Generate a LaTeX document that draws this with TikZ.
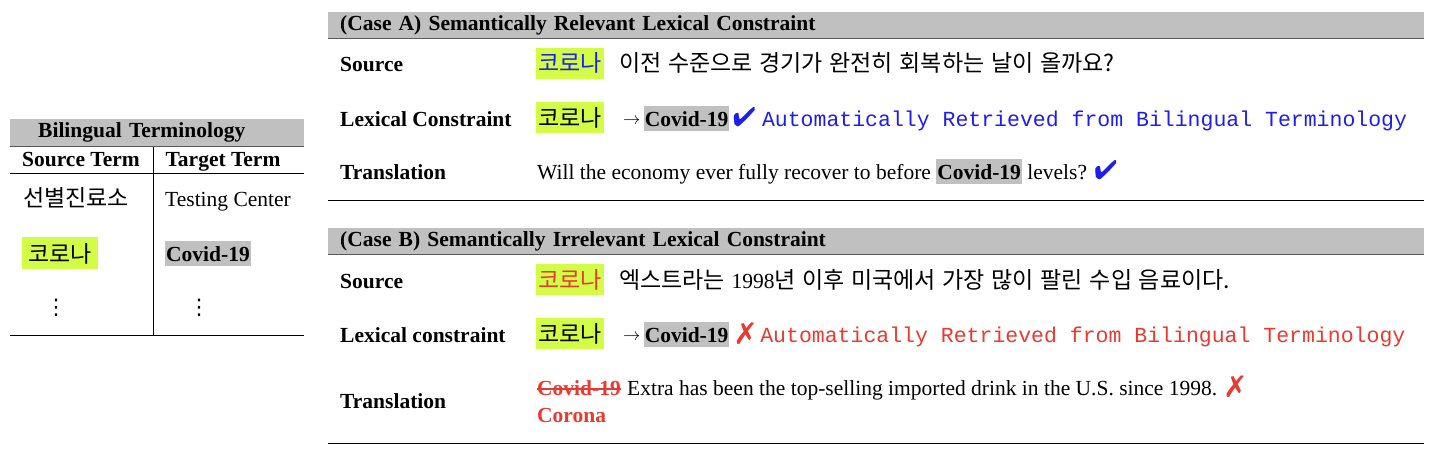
\documentclass[tikz,border=0pt]{standalone}
\usepackage{fontspec}
\setmainfont{Liberation Serif}
\setmonofont{Liberation Mono}
\newfontfamily\kofont[WordSpace=1.3]{Noto Sans CJK KR}
\newfontfamily\symfont{DejaVu Sans}
\usepackage{pifont}
\usetikzlibrary{positioning,calc}

\definecolor{hlgreen}{RGB}{210,252,70}
\definecolor{boxgray}{RGB}{192,192,192}
\definecolor{okblue}{RGB}{30,30,235}
\definecolor{badred}{RGB}{232,58,48}
\newcommand{\sz}{\fontsize{21.5}{25}\selectfont}
\newcommand{\kosz}{\fontsize{23}{26}\selectfont}

\begin{document}
\begin{tikzpicture}[
        x=1pt, y=-1pt,
        font=\sz,
        band/.style={
            fill=boxgray,
            anchor=north west,
            minimum height=26pt,
            align=left,
            font=\sz\bfseries
        },
        rule/.style={
            line width=0.9pt
        },
        bandrule/.style={
            line width=1.4pt,
            draw=black!65
        },
        lbl/.style={
            anchor=base west,
            inner sep=0pt,
            font=\sz\bfseries
        },
        txt/.style={
            inner sep=0pt
        },
        kor/.style={
            inner sep=0pt,
            font=\kosz\kofont
        },
        hl/.style={
            fill=hlgreen,
            anchor=base west,
            inner xsep=2pt,
            minimum height=31pt,
            font=\kosz\kofont
        },
        tgt/.style={
            fill=boxgray,
            inner xsep=1pt,
            inner ysep=5pt,
            font=\sz\bfseries
        },
        note/.style={
            inner sep=0pt,
            font=\sz\ttfamily
        },
        okmark/.style={
            inner sep=0pt,
            text=okblue,
            font=\fontsize{27}{27}\selectfont
        },
        badmark/.style={
            inner sep=0pt,
            text=badred,
            font=\fontsize{30}{30}\selectfont
        },
        arrowsym/.style={
            inner sep=0pt,
            font=\fontsize{16}{16}\selectfont
        },
        dots/.style={
            inner sep=0pt,
            font=\sz\symfont
        }
    ]

    \useasboundingbox (0,0) rectangle (1432,452);

    % =========================
    % Bilingual terminology table
    % =========================
    \node[band, text width=238pt, inner xsep=28pt, minimum height=27pt] (bt) at (10,119) {Bilingual Terminology};
    \draw[bandrule] (bt.south west) -- (bt.south east);

    \node[lbl, anchor=base] (hsrc) at (81,166) {Source Term};
    \node[lbl, anchor=base] (htgt) at (223,166) {Target Term};
    \draw[rule] (10,173) -- (304,173);
    \draw[rule] (153,147) -- (153,335);
    \draw[rule] (10,335) -- (304,335);

    \node[kor, anchor=base west] (src1) at (23,206) {선별진료소};
    \node[txt, anchor=base west] (tgt1) at (165,206) {Testing Center};

    \node[hl, inner xsep=6pt, minimum height=32pt] (src2) at (22,262) {코로나};
    \node[tgt, anchor=base west] (tgt2) at (165,261) {Covid-19};

    \node[dots] (src3) at (56,308) {⋮};
    \node[dots] (tgt3) at (199,308) {⋮};

    % =========================
    % Case A
    % =========================
    \node[band, text width=1072pt, inner xsep=12pt] (hA) at (328,12) {(Case A) Semantically Relevant Lexical Constraint};
    \draw[bandrule] (hA.south west) -- (hA.south east);

    \node[lbl] (srcA) at (340,72) {Source};
    \node[hl, text=okblue] (srcAk) at (536,72) {코로나};
    \node[kor, base right=15pt of srcAk] (srcAt) {이전 수준으로 경기가 완전히 회복하는 날이 올까요?};

    \node[lbl] (lexA) at (340,126) {Lexical Constraint};
    \node[hl] (lexAk) at (536,126) {코로나};
    \node[arrowsym, base right=19pt of lexAk] (lexAar) {\raisebox{1.5pt}{$\rightarrow$}};
    \node[tgt, base right=3pt of lexAar] (lexAc) {Covid-19};
    \node[okmark, base right=3pt of lexAc] (lexAok) {\ding{52}};
    \node[note, text=okblue, base right=6pt of lexAok] (lexAn) {Automatically Retrieved from Bilingual Terminology};

    \node[lbl] (trA) at (340,179) {Translation};
    \node[txt, anchor=base west] (trAt) at (537,179) {Will the economy ever fully recover to before};
    \node[tgt, base right=5pt of trAt] (trAc) {Covid-19};
    \node[txt, base right=5pt of trAc] (trAl) {levels?};
    \node[okmark, base right=7pt of trAl] (trAok) {\ding{52}};

    \draw[rule] (328,200) -- (1424,200);

    % =========================
    % Case B
    % =========================
    \node[band, text width=1072pt, inner xsep=12pt] (hB) at (328,228) {(Case B) Semantically Irrelevant Lexical Constraint};
    \draw[bandrule] (hB.south west) -- (hB.south east);

    \node[lbl] (srcB) at (340,288) {Source};
    \node[hl, text=badred] (srcBk) at (536,288) {코로나};
    \node[kor, base right=15pt of srcBk] (srcBt) {엑스트라는 {\sz\rmfamily 1998}년 이후 미국에서 가장 많이 팔린 수입 음료이다.};

    \node[lbl] (lexB) at (340,342) {Lexical constraint};
    \node[hl] (lexBk) at (536,342) {코로나};
    \node[arrowsym, base right=19pt of lexBk] (lexBar) {\raisebox{1.5pt}{$\rightarrow$}};
    \node[tgt, base right=3pt of lexBar] (lexBc) {Covid-19};
    \node[badmark, base right=7pt of lexBc] (lexBx) {\ding{55}};
    \node[note, text=badred, base right=6pt of lexBx] (lexBn) {Automatically Retrieved from Bilingual Terminology};

    \node[lbl] (trB) at (340,408) {Translation};
    \node[lbl, text=badred] (trBc) at (537,395) {Covid-19};
    \draw[badred, line width=1.6pt] ($(trBc.base west)+(0,-6)$) -- ($(trBc.base east)+(0,-6)$);
    \node[txt, base right=6pt of trBc] (trBt) {Extra has been the top-selling imported drink in the U.S. since 1998.};
    \node[badmark, base right=9pt of trBt] (trBx) {\ding{55}};
    \node[lbl, text=badred] (trBn) at (537,422) {Corona};

    \draw[rule] (328,443) -- (1424,443);

\end{tikzpicture}
\end{document}
